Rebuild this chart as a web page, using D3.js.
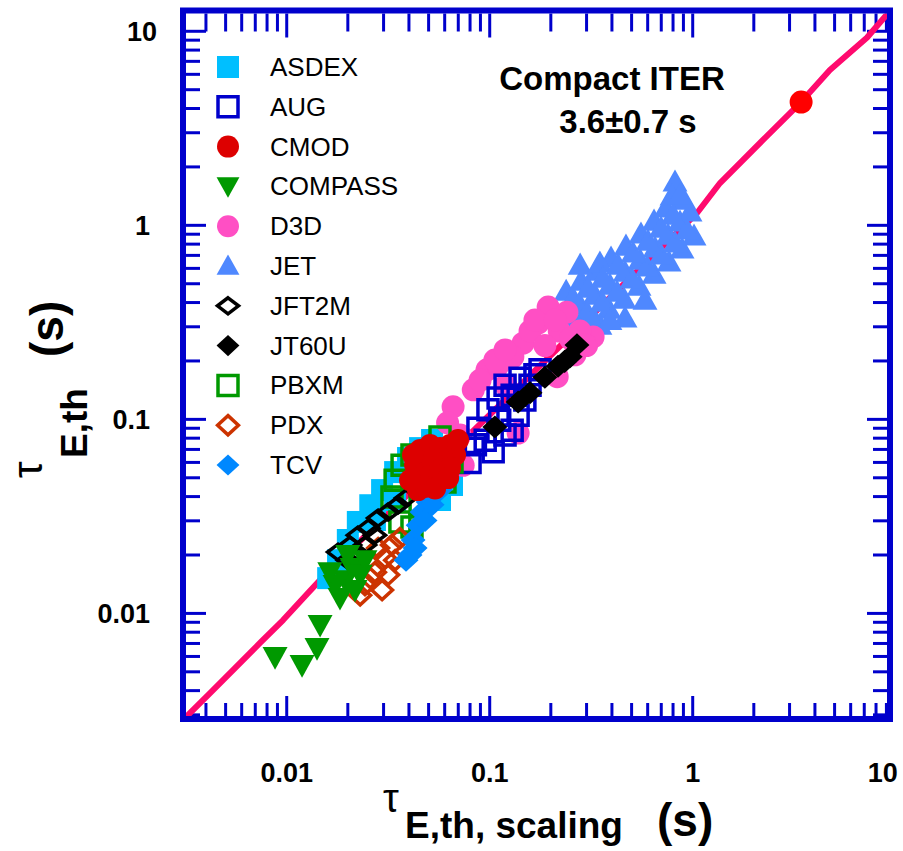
<!DOCTYPE html>
<html>
<head>
<meta charset="utf-8">
<script src="https://cdn.jsdelivr.net/npm/d3@7"></script>
<style>
  body { margin: 0; background: #fff; }
  text { font-family: "Liberation Sans", Arial, sans-serif; }
</style>
</head>
<body>
<div id="chart"></div>
<script>
// ---- data (tau_scaling [s], tau_th [s]) ----
const asdex = [[0.0160,0.0152],[0.0179,0.0188],[0.0200,0.0239],[0.0224,0.0296],[0.0258,0.0361],[0.0295,0.0432],
  [0.0342,0.0535],[0.0396,0.0632],[0.0454,0.0711],[0.0520,0.0783],[0.0602,0.0548],[0.0652,0.0459],[0.0569,0.0384],
  [0.0429,0.0486],[0.0342,0.0384],[0.0272,0.0303]];
const aug = [[0.080,0.060],[0.095,0.078],[0.112,0.099],[0.129,0.133],[0.141,0.163],[0.167,0.170],[0.149,0.126],
  [0.119,0.083],[0.098,0.112],[0.138,0.105],[0.104,0.068],[0.0875,0.090],[0.119,0.150],[0.158,0.150],[0.177,0.180],
  [0.110,0.129],[0.129,0.088],[0.085,0.074]];
const cmod = [[0.0429,0.0581],[0.0454,0.0695],[0.0508,0.0737],[0.0569,0.0711],[0.0638,0.0737],[0.0675,0.0655],
  [0.0602,0.0603],[0.0520,0.0617],[0.0454,0.0498],[0.0508,0.0516],[0.0569,0.0548],[0.0638,0.0561],[0.0443,0.0432],
  [0.0480,0.0448],[0.0405,0.0486],[0.0538,0.0440],[0.0624,0.0498],[0.0698,0.0783],[0.0419,0.0655]];
const compass = [[0.0183,0.0120],[0.0194,0.0148],[0.0210,0.0171],[0.0230,0.0158],[0.0173,0.0140],[0.0163,0.0163],
  [0.0217,0.0132],[0.0146,0.0087],[0.0141,0.00662],[0.00876,0.00595],[0.0119,0.00541],[0.0200,0.0200],[0.0243,0.0188]];
const d3d = [[0.194,0.379],[0.240,0.357],[0.173,0.313],[0.323,0.266],[0.146,0.247],[0.130,0.210],[0.097,0.180],
  [0.083,0.142],[0.066,0.116],[0.062,0.096],[0.138,0.085],[0.215,0.166],[0.263,0.215],[0.278,0.285],[0.074,0.058],
  [0.158,0.285],[0.220,0.285],[0.187,0.240],[0.110,0.190],[0.120,0.150],[0.300,0.240],[0.250,0.260],
  [0.0896,0.159],[0.106,0.202],[0.119,0.228],[0.167,0.325],[0.210,0.325],[0.294,0.242],[0.0714,0.083]];
const jet = [[0.279,0.388],[0.330,0.437],[0.391,0.492],[0.464,0.574],[0.550,0.662],[0.652,0.764],[0.756,0.891],
  [0.866,1.04],[0.970,1.171],[0.327,0.329],[0.387,0.370],[0.459,0.417],[0.544,0.486],[0.645,0.561],[0.764,0.647],
  [0.886,0.755],[1.015,0.881],[0.238,0.458],[0.282,0.516],[0.334,0.581],[0.396,0.678],[0.469,0.782],[0.556,0.902],
  [0.645,1.052],[0.739,1.228],[0.818,1.672],[0.791,1.416],[0.906,1.349],[0.349,0.306],[0.464,0.333],[0.582,0.412],
  [0.279,0.624],[0.349,0.640],
  [0.302,0.357],[0.358,0.402],[0.424,0.453],[0.502,0.529],[0.596,0.610],[0.698,0.703],[0.818,0.811],[0.937,0.946],
  [0.257,0.422],[0.305,0.475],[0.361,0.535],[0.429,0.624],[0.508,0.720],[0.602,0.830],[0.698,0.968],[0.800,1.130],
  [0.866,1.433],[0.263,0.324],[0.391,0.324]];
const jft2m = [[0.0179,0.0207],[0.0205,0.0225],[0.0224,0.0253],[0.0252,0.0275],[0.0282,0.0310],[0.0316,0.0333],
  [0.0353,0.0362],[0.0387,0.0393],[0.0243,0.0225],[0.0272,0.0253],[0.0230,0.0200],[0.0200,0.0188]];
const jt60u = [[0.106,0.0913],[0.138,0.123],[0.158,0.137],[0.187,0.165],[0.217,0.188],[0.249,0.210],[0.269,0.242],[0.234,0.199]];
const pbxm = [[0.0342,0.0486],[0.0370,0.0581],[0.0414,0.0655],[0.0361,0.0296],[0.0414,0.0279],[0.0602,0.0475],
  [0.0652,0.0603],[0.0569,0.0811],[0.0330,0.0398],[0.0454,0.0361]];
const pdx = [[0.0243,0.0140],[0.0272,0.0163],[0.0305,0.0193],[0.0330,0.0225],[0.0295,0.0132],[0.0258,0.0152],
  [0.0342,0.0188],[0.0282,0.0217],[0.0361,0.0244],[0.0316,0.0158],[0.0230,0.0124]];
const tcv = [[0.0405,0.0200],[0.0419,0.0239],[0.0444,0.0285],[0.0464,0.0333],[0.0497,0.0375],[0.0544,0.0417],
  [0.0480,0.0301],[0.0429,0.0217],[0.0520,0.0363],[0.0387,0.0188],[0.0569,0.0432]];

// compact ITER prediction and the scaling line
const iterPoint = [[3.42, 4.32]];
const scalingLine = [[0.0029,0.00265],[0.00308,0.00282],[0.00419,0.00388],[0.00556,0.00522],[0.00745,0.00711],
  [0.0096,0.00924],[0.0126,0.0126],[0.0149,0.0152],[0.0638,0.0667],[0.279,0.301],[1.05,1.157],[1.363,1.652],
  [2.22,2.754],[3.42,4.32],[4.74,6.32],[7.21,9.26],[10,13.8]];

// axis limits and labels
const xDomain = [0.00319, 9.06];
const yDomain = [0.00296, 12.35];
const tickValues = [0.01, 0.1, 1, 10];
const tickText = ["0.01", "0.1", "1", "10"];
const legendNames = ["ASDEX","AUG","CMOD","COMPASS","D3D","JET","JFT2M","JT60U","PBXM","PDX","TCV"];

const W = 903, H = 851;
const blue = "#0000cc";

const svg = d3.select("#chart").append("svg")
    .attr("width", W)
    .attr("height", H);

const x = d3.scaleLog().domain(xDomain).range([186, 887]);
const y = d3.scaleLog().domain(yDomain).range([716, 13.5]);

svg.append("clipPath").attr("id", "plotclip")
    .append("rect")
    .attr("x", x.range()[0]).attr("y", y.range()[1])
    .attr("width", x.range()[1] - x.range()[0])
    .attr("height", y.range()[0] - y.range()[1]);

// log ticks 1..9 x 10^k inside a domain
function logTicks(dom) {
    let out = [];
    for (let k = -4; k <= 2; k++) {
        for (let m = 1; m <= 9; m++) {
            let v = m * Math.pow(10, k);
            if (v >= dom[0] && v <= dom[1]) out.push({v: v, major: m === 1});
        }
    }
    return out;
}

const tickG = svg.append("g").attr("stroke", blue).attr("stroke-width", 3);
logTicks(xDomain).forEach(t => {
    let px = x(t.v);
    tickG.append("line").attr("x1", px).attr("x2", px)
        .attr("y1", y.range()[0]).attr("y2", y.range()[0] - (t.major ? 20 : 13));
    tickG.append("line").attr("x1", px).attr("x2", px)
        .attr("y1", y.range()[1]).attr("y2", y.range()[1] + (t.major ? 24 : 18));
});
logTicks(yDomain).forEach(t => {
    let py = y(t.v);
    tickG.append("line").attr("y1", py).attr("y2", py)
        .attr("x1", x.range()[0]).attr("x2", x.range()[0] + (t.major ? 20 : 14));
    tickG.append("line").attr("y1", py).attr("y2", py)
        .attr("x1", x.range()[1]).attr("x2", x.range()[1] - (t.major ? 20 : 14));
});

// scaling line
svg.append("path")
    .datum(scalingLine)
    .attr("clip-path", "url(#plotclip)")
    .attr("fill", "none")
    .attr("stroke", "#ff0a6e")
    .attr("stroke-width", 6)
    .attr("stroke-linejoin", "round")
    .attr("d", d3.line().x(d => x(d[0])).y(d => y(d[1])));

// marker shapes
const shapes = {
    square: s => `M${-s/2},${-s/2}h${s}v${s}h${-s}Z`,
    circle: s => d3.symbol(d3.symbolCircle, Math.PI * (s/2) * (s/2))(),
    triUp: s => `M0,${-s*0.52}L${s*0.52},${s*0.4}L${-s*0.52},${s*0.4}Z`,
    triDown: s => `M0,${s*0.52}L${s*0.52},${-s*0.42}L${-s*0.52},${-s*0.42}Z`,
    diamond: s => `M0,${-s*0.48}L${s*0.52},0L0,${s*0.48}L${-s*0.52},0Z`,
    flatDiamond: s => `M0,${-s*0.38}L${s*0.5},0L0,${s*0.38}L${-s*0.5},0Z`
};

const series = {
    ASDEX:   {data: asdex,   color: "#00bfff", shape: "square",      size: 22, fill: true},
    AUG:     {data: aug,     color: blue,      shape: "square",      size: 20, fill: false},
    CMOD:    {data: cmod,    color: "#dd0000", shape: "circle",      size: 22, fill: true},
    COMPASS: {data: compass, color: "#009900", shape: "triDown",     size: 24, fill: true},
    D3D:     {data: d3d,     color: "#ff4fc4", shape: "circle",      size: 23, fill: true},
    JET:     {data: jet,     color: "#4f88ff", shape: "triUp",       size: 24, fill: true},
    JFT2M:   {data: jft2m,   color: "#000000", shape: "flatDiamond", size: 21, fill: false},
    JT60U:   {data: jt60u,   color: "#000000", shape: "diamond",     size: 24, fill: true},
    PBXM:    {data: pbxm,    color: "#009900", shape: "square",      size: 20, fill: false},
    PDX:     {data: pdx,     color: "#cc3300", shape: "diamond",     size: 20, fill: false},
    TCV:     {data: tcv,     color: "#0088ff", shape: "diamond",     size: 24, fill: true}
};

function styleMarker(sel, s) {
    sel.attr("d", shapes[s.shape](s.size))
        .attr("fill", s.fill ? s.color : "none")
        .attr("stroke", s.fill ? "none" : s.color)
        .attr("stroke-width", s.fill ? 0 : 3.5)
        .attr("stroke-linejoin", "miter");
}

// draw order roughly follows the overlaps in the original
const drawOrder = ["ASDEX","JET","D3D","AUG","PBXM","PDX","JFT2M","COMPASS","TCV","CMOD","JT60U"];
const pts = svg.append("g").attr("clip-path", "url(#plotclip)");
drawOrder.forEach(name => {
    let s = series[name];
    pts.append("g").selectAll("path")
        .data(s.data)
        .enter().append("path")
        .attr("transform", d => `translate(${x(d[0])},${y(d[1])})`)
        .call(styleMarker, s);
});

// compact ITER point
pts.selectAll("circle.iter")
    .data(iterPoint)
    .enter().append("circle")
    .attr("class", "iter")
    .attr("cx", d => x(d[0]))
    .attr("cy", d => y(d[1]))
    .attr("r", 11.5)
    .attr("fill", "#ff0000");

// legend
const legend = svg.append("g");
legendNames.forEach((name, i) => {
    let ly = 67 + i * 39.8;
    let s = Object.assign({}, series[name], {size: Math.min(series[name].size, 22)});
    legend.append("path")
        .attr("transform", `translate(228,${ly})`)
        .call(styleMarker, s);
    legend.append("text")
        .attr("x", 270).attr("y", ly)
        .attr("dominant-baseline", "central")
        .attr("font-size", 26)
        .text(name);
});

// annotation
svg.append("text")
    .attr("x", 612).attr("y", 90)
    .attr("text-anchor", "middle")
    .attr("font-size", 33).attr("font-weight", "bold")
    .text("Compact ITER");
svg.append("text")
    .attr("x", 628).attr("y", 133)
    .attr("text-anchor", "middle")
    .attr("font-size", 33).attr("font-weight", "bold")
    .text("3.6\u00b10.7 s");

// tick labels
tickValues.forEach((v, i) => {
    let last = i === tickValues.length - 1;
    svg.append("text")
        .attr("x", last ? x(v) + 2 : x(v))
        .attr("y", 782)
        .attr("text-anchor", last ? "end" : "middle")
        .attr("font-size", 27).attr("font-weight", "bold")
        .text(tickText[i]);
    svg.append("text")
        .attr("x", last ? 157 : 150)
        .attr("y", y(v) + 10)
        .attr("text-anchor", "end")
        .attr("font-size", 27).attr("font-weight", "bold")
        .text(tickText[i]);
});

// axis titles
const xt = svg.append("text").attr("font-weight", "bold");
xt.append("tspan").attr("x", 383).attr("y", 812)
    .attr("font-size", 40).attr("font-weight", "normal").text("\u03c4");
xt.append("tspan").attr("x", 405).attr("y", 838)
    .attr("font-size", 37).text("E,th, scaling");
xt.append("tspan").attr("x", 657).attr("y", 836)
    .attr("font-size", 46).text("(s)");

const yt = svg.append("text").attr("font-weight", "bold")
    .attr("transform", "translate(87,478) rotate(-90)");
yt.append("tspan").attr("x", 0).attr("y", -45)
    .attr("font-size", 42).attr("font-weight", "normal").text("\u03c4");
yt.append("tspan").attr("x", 20).attr("y", 0)
    .attr("font-size", 37).text("E,th");
yt.append("tspan").attr("x", 121).attr("y", -24)
    .attr("font-size", 46).text("(s)");

// frame
svg.append("rect")
    .attr("x", x.range()[0] - 3).attr("y", y.range()[1] - 3)
    .attr("width", x.range()[1] - x.range()[0] + 6)
    .attr("height", y.range()[0] - y.range()[1] + 6)
    .attr("fill", "none")
    .attr("stroke", blue)
    .attr("stroke-width", 6);
</script>
</body>
</html>
